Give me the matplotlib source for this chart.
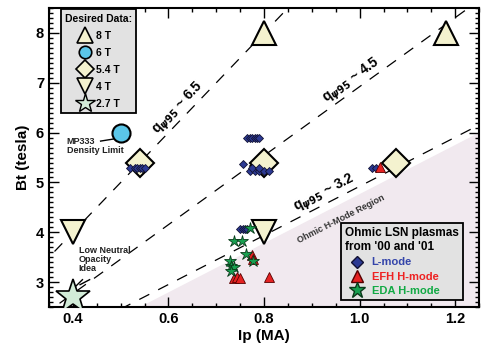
import numpy as np
import matplotlib
matplotlib.use("Agg")
import matplotlib.pyplot as plt
from matplotlib.lines import Line2D
from matplotlib.ticker import MultipleLocator

plt.rcParams['font.family'] = ['Liberation Sans', 'DejaVu Sans']
plt.rcParams['font.weight'] = 'bold'

# desired operating points
ip_8t = [0.80, 1.18]
bt_8t = [8.0, 8.0]
ip_6t = [0.50]
bt_6t = [6.0]
ip_54t = [0.54, 0.80, 1.075]
bt_54t = [5.4, 5.4, 5.4]
ip_4t = [0.40, 0.80]
bt_4t = [4.0, 4.0]
ip_27t = [0.40]
bt_27t = [2.7]

# ohmic LSN plasmas
ip_l = [0.52, 0.53, 0.535, 0.54, 0.545, 0.55,
        0.765, 0.77, 0.775, 0.78, 0.785, 0.79,
        0.755,
        0.77, 0.78, 0.79, 0.80, 0.81, 0.775, 0.79,
        1.025, 1.035,
        0.75, 0.755, 0.76, 0.765]
bt_l = [5.3, 5.3, 5.3, 5.3, 5.3, 5.3,
        5.9, 5.9, 5.9, 5.9, 5.9, 5.9,
        5.37,
        5.22, 5.22, 5.22, 5.22, 5.22, 5.3, 5.3,
        5.3, 5.3,
        4.06, 4.06, 4.06, 4.06]
ip_efh = [1.042, 0.774, 0.776, 0.738, 0.744, 0.75, 0.81]
bt_efh = [5.32, 3.54, 3.46, 3.08, 3.1, 3.08, 3.1]
ip_eda = [0.77, 0.738, 0.753, 0.763, 0.776, 0.728, 0.731, 0.738, 0.731]
bt_eda = [4.08, 3.82, 3.82, 3.56, 3.42, 3.42, 3.32, 3.3, 3.22]

q_vals = [6.5, 4.5, 3.2]
q_labels = ["6.5", "4.5", "3.2"]
q_label_ip = [0.635, 0.995, 0.935]

cream = '#f4f2cf'

fig = plt.figure(figsize=(4.85, 3.47), dpi=100)
ax = fig.add_axes([0.101, 0.115, 0.887, 0.862])
ax.set_xlim(0.35, 1.25)
ax.set_ylim(2.5, 8.5)

# ohmic H-mode region
xr = np.array([0.54, 1.25, 1.25])
yr = np.array([2.5, 6.0, 2.5])
ax.fill(xr, yr, color='#f1e9ef', zorder=0, lw=0)
ax.text(0.96, 4.27, "Ohmic H-Mode Region", fontsize=6.5, rotation=27,
        ha='center', va='center', color='#333333')

# constant q lines
ipl = np.linspace(0.3, 1.3, 50)
for q, lab, xl in zip(q_vals, q_labels, q_label_ip):
    k = 10.0 * q / 6.5
    ax.plot(ipl, k * ipl, ls=(0, (9, 8)), color='black', lw=0.9, zorder=1)
    p1 = ax.transData.transform((0.5, 0.5 * k))
    p2 = ax.transData.transform((1.0, 1.0 * k))
    ang = np.degrees(np.arctan2(p2[1] - p1[1], p2[0] - p1[0]))
    ax.text(xl, k * xl, r"q$_{\psi95}$ ~ " + lab, fontsize=10, rotation=ang,
            rotation_mode='anchor', ha='center', va='bottom', zorder=3)

# desired points
ax.plot(ip_8t, bt_8t, '^', ms=17, mfc=cream, mec='black', mew=1.5, ls='none', zorder=4)
ax.plot(ip_6t, bt_6t, 'o', ms=13, mfc='#5bc6e8', mec='black', mew=1.5, ls='none', zorder=4)
ax.plot(ip_54t, bt_54t, 'D', ms=14.5, mfc=cream, mec='black', mew=1.5, ls='none', zorder=2)
ax.plot(ip_4t, bt_4t, 'v', ms=17, mfc=cream, mec='black', mew=1.5, ls='none', zorder=2)
ax.plot(ip_27t, bt_27t, '*', ms=26, mfc='#d2ecd8', mec='black', mew=1.2, ls='none', zorder=4)

# data
ax.plot(ip_l, bt_l, 'D', ms=4.5, mfc='#2c3a93', mec='#111133', mew=0.6, ls='none', zorder=5)
ax.plot(ip_efh, bt_efh, '^', ms=7, mfc='#e52222', mec='#550000', mew=0.6, ls='none', zorder=5)
ax.plot(ip_eda, bt_eda, '*', ms=9, mfc='#18a050', mec='#0a3a1a', mew=0.6, ls='none', zorder=6)

# annotations
ax.text(0.387, 5.74, "MP333\nDensity Limit", fontsize=6.5, ha='left', va='center',
        linespacing=1.0, color='#222222')
ax.plot([0.458, 0.484], [5.83, 5.87], color='black', lw=1)
ax.text(0.412, 3.72, "Low Neutral\nOpacity\nIdea", fontsize=6.5, ha='left', va='top',
        linespacing=1.0, color='#222222')
ax.plot([0.42, 0.404], [3.05, 2.9], color='black', lw=1)
ax.plot([0.435, 0.415], [3.05, 2.95], color='black', lw=1)

# axes
ax.set_xlabel("Ip (MA)", fontsize=11, fontweight='bold', labelpad=2)
ax.set_ylabel("Bt (tesla)", fontsize=11, fontweight='bold', labelpad=4)
ax.xaxis.set_major_locator(MultipleLocator(0.2))
ax.xaxis.set_minor_locator(MultipleLocator(0.05))
ax.yaxis.set_major_locator(MultipleLocator(1))
ax.yaxis.set_minor_locator(MultipleLocator(0.1))
ax.set_xticks([0.4, 0.6, 0.8, 1.0, 1.2])
ax.set_xticklabels(["0.4", "0.6", "0.8", "1.0", "1.2"])
ax.tick_params(which='both', direction='in', top=True, right=True, width=1)
ax.tick_params(which='major', length=7, labelsize=10.5)
ax.tick_params(which='minor', length=3)
for lab in ax.get_xticklabels() + ax.get_yticklabels():
    lab.set_fontweight('bold')
for s in ax.spines.values():
    s.set_linewidth(1.5)

# legend: desired data
h1 = [Line2D([], [], marker='^', ms=11, mfc=cream, mec='black', mew=1.2, ls='none'),
      Line2D([], [], marker='o', ms=9, mfc='#5bc6e8', mec='black', mew=1.2, ls='none'),
      Line2D([], [], marker='D', ms=9, mfc=cream, mec='black', mew=1.2, ls='none'),
      Line2D([], [], marker='v', ms=11, mfc=cream, mec='black', mew=1.2, ls='none'),
      Line2D([], [], marker='*', ms=15, mfc='#d2ecd8', mec='black', mew=1.0, ls='none')]
leg1 = ax.legend(h1, ["8 T", "6 T", "5.4 T", "4 T", "2.7 T"], loc='upper left',
                 bbox_to_anchor=(0.028, 0.995), borderaxespad=0, title="Desired Data:",
                 fontsize=7.5, title_fontsize=7.5, fancybox=False, framealpha=1,
                 facecolor='#e2e2e2', edgecolor='black', handlelength=1.4,
                 handletextpad=0.3, labelspacing=0.68, borderpad=0.4)
leg1.get_frame().set_linewidth(1.3)
leg1.get_title().set_fontweight('bold')
ax.add_artist(leg1)

# legend: ohmic plasmas
h2 = [Line2D([], [], marker='D', ms=6, mfc='#2c3a93', mec='#111133', ls='none'),
      Line2D([], [], marker='^', ms=9, mfc='#e52222', mec='#550000', ls='none'),
      Line2D([], [], marker='*', ms=12, mfc='#18a050', mec='#0a3a1a', ls='none')]
leg2 = ax.legend(h2, ["L-mode", "EFH H-mode", "EDA H-mode"], loc='lower right',
                 bbox_to_anchor=(0.962, 0.023), borderaxespad=0,
                 title="Ohmic LSN plasmas\nfrom '00 and '01",
                 fontsize=8, title_fontsize=8.5, fancybox=False, framealpha=1,
                 facecolor='#e2e2e2', edgecolor='black', handlelength=2.2,
                 handletextpad=0.2, labelspacing=0.4, borderpad=0.35,
                 labelcolor=['#3344aa', '#ee2222', '#11aa44'])
leg2.get_frame().set_linewidth(1.3)
leg2.get_title().set_fontweight('bold')
leg2._legend_box.align = 'left'

fig.savefig("out.png", dpi=100)
